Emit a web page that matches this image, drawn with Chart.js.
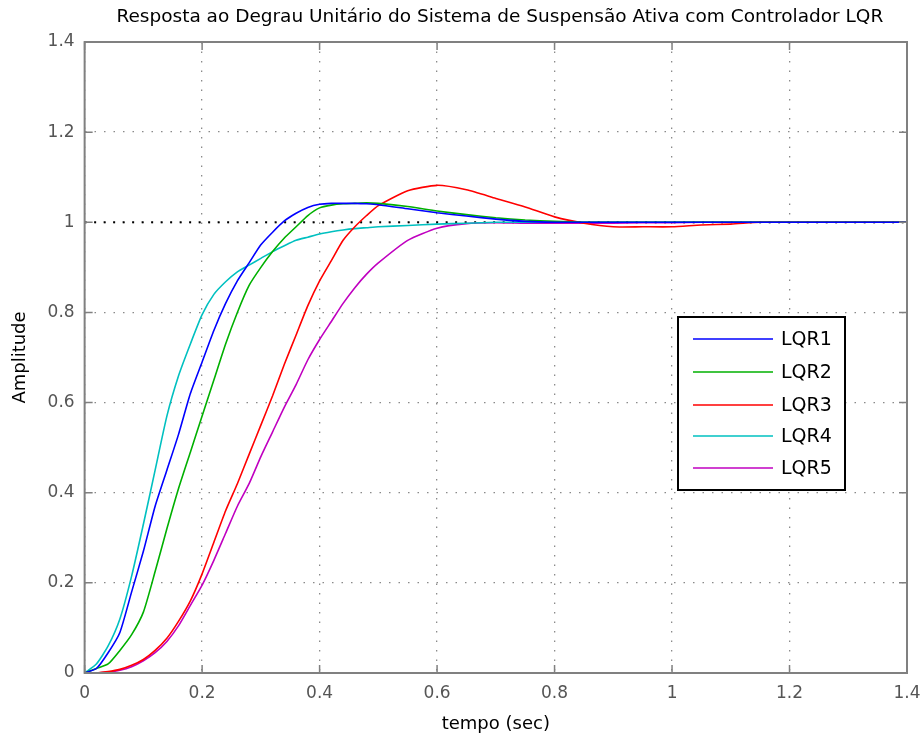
<!DOCTYPE html>
<html>
<head>
<meta charset="utf-8">
<script src="https://cdn.jsdelivr.net/npm/chart.js@4"></script>
<style>
html,body{margin:0;padding:0;background:#fff;}
canvas{display:block;}
</style>
</head>
<body>
<canvas id="c" width="922" height="735"></canvas>
<script>
// time samples (s)
const tempo = [0,0.02,0.04,0.06,0.08,0.1,0.12,0.14,0.16,0.18,0.2,0.22,0.24,0.26,0.28,0.3,0.32,0.34,0.36,0.38,0.4,0.42,0.44,0.46,0.48,0.5,0.55,0.6,0.65,0.7,0.75,0.8,0.85,0.9,0.95,1.0,1.05,1.1,1.15,1.2,1.3,1.4];

const lqr1 = [0,0.01,0.045,0.09,0.18,0.27,0.37,0.45,0.53,0.62,0.69,0.76,0.82,0.87,0.91,0.95,0.978,1.003,1.02,1.033,1.04,1.042,1.042,1.042,1.041,1.039,1.03,1.021,1.014,1.007,1.002,1.0,1.0,1.0,1.0,1.0,1.0,1.0,1.0,1.0,1.0,1.0];
const lqr2 = [0,0.01,0.02,0.05,0.085,0.135,0.225,0.32,0.41,0.49,0.57,0.65,0.73,0.80,0.86,0.90,0.935,0.965,0.99,1.015,1.032,1.038,1.041,1.042,1.043,1.042,1.035,1.025,1.017,1.01,1.005,1.002,1.0,1.0,1.0,1.0,1.0,1.0,1.0,1.0,1.0,1.0];
const lqr3 = [0,0,0.003,0.008,0.017,0.03,0.05,0.077,0.115,0.16,0.22,0.29,0.36,0.42,0.485,0.55,0.615,0.685,0.75,0.815,0.87,0.915,0.96,0.99,1.015,1.037,1.07,1.082,1.072,1.053,1.034,1.012,0.998,0.99,0.99,0.99,0.994,0.996,1.0,1.0,1.0,1.0];
const lqr4 = [0,0.02,0.06,0.12,0.215,0.33,0.45,0.57,0.66,0.73,0.795,0.84,0.868,0.89,0.905,0.92,0.935,0.948,0.96,0.967,0.974,0.979,0.983,0.986,0.988,0.99,0.993,0.996,0.998,1.0,1.0,1.0,1.0,1.0,1.0,1.0,1.0,1.0,1.0,1.0,1.0,1.0];
const lqr5 = [0,0,0.002,0.006,0.014,0.027,0.045,0.07,0.105,0.15,0.195,0.25,0.31,0.37,0.42,0.48,0.535,0.59,0.64,0.695,0.74,0.78,0.82,0.855,0.885,0.91,0.96,0.987,0.997,0.999,0.998,0.998,0.998,0.998,0.999,0.999,1.0,1.0,1.0,1.0,1.0,1.0];

const seriesNames = ['LQR1','LQR2','LQR3','LQR4','LQR5'];
const seriesColors = ['#0000ff','#00b000','#ff0000','#00c0c0','#c000c0'];
const seriesValues = [lqr1,lqr2,lqr3,lqr4,lqr5];

const refX = [0,1.4];
const refY = [1,1];

const tickValues = [0,0.2,0.4,0.6,0.8,1,1.2,1.4];

const titleText = 'Resposta ao Degrau Unitário do Sistema de Suspensão Ativa com Controlador LQR';

const FONT = "'DejaVu Sans',Arial,sans-serif";

const datasets = seriesValues.map((vals,i)=>({
  label: seriesNames[i],
  data: tempo.map((t,k)=>({x:t,y:vals[k]})),
  borderColor: seriesColors[i],
  borderWidth: 1.6,
  pointRadius: 0,
  tension: 0.2,
  fill: false,
  order: 1
}));
datasets.push({
  label: 'ref',
  data: refX.map((x,k)=>({x:x,y:refY[k]})),
  borderColor: '#000',
  borderWidth: 2,
  borderDash: [2,7.5],
  pointRadius: 0,
  fill: false,
  order: 2
});

const framePlugin = {
  id: 'frame',
  afterDraw(chart){
    const ctx = chart.ctx, a = chart.chartArea;
    const xs = chart.scales.x, ys = chart.scales.y;
    ctx.save();
    ctx.strokeStyle = '#808080';
    ctx.lineWidth = 1.5;
    const L = 8;
    tickValues.forEach(v=>{
      const px = xs.getPixelForValue(v);
      ctx.beginPath();
      ctx.moveTo(px,a.bottom); ctx.lineTo(px,a.bottom-L);
      ctx.moveTo(px,a.top); ctx.lineTo(px,a.top+L);
      ctx.stroke();
      const py = ys.getPixelForValue(v);
      ctx.beginPath();
      ctx.moveTo(a.left,py); ctx.lineTo(a.left+L,py);
      ctx.moveTo(a.right,py); ctx.lineTo(a.right-L,py);
      ctx.stroke();
    });
    ctx.lineWidth = 2;
    ctx.strokeRect(a.left,a.top,a.right-a.left,a.bottom-a.top);
    // title, centred over the plot box
    ctx.fillStyle = '#000';
    ctx.font = '18.5px ' + FONT;
    ctx.textAlign = 'center';
    ctx.textBaseline = 'middle';
    ctx.fillText(titleText,(a.left+a.right)/2 + 4, 17);
    // legend
    const bx = 678, by = 317, bw = 167, bh = 173;
    ctx.fillStyle = '#fff';
    ctx.fillRect(bx,by,bw,bh);
    ctx.strokeStyle = '#000';
    ctx.lineWidth = 2;
    ctx.strokeRect(bx,by,bw,bh);
    const rows = [339,372,405,436,468];
    ctx.font = '19px ' + FONT;
    ctx.textBaseline = 'middle';
    ctx.textAlign = 'left';
    seriesNames.forEach((n,i)=>{
      ctx.strokeStyle = seriesColors[i];
      ctx.lineWidth = 1.6;
      ctx.beginPath();
      ctx.moveTo(693,rows[i]); ctx.lineTo(773,rows[i]);
      ctx.stroke();
      ctx.fillStyle = '#000';
      ctx.fillText(n,781,rows[i]+1);
    });
    ctx.restore();
  }
};

const gridOpts = {color:'#8a8a8a',lineWidth:1.3,drawTicks:false};
const borderOpts = {display:false,dash:[1.5,8]};

new Chart(document.getElementById('c'),{
  type:'line',
  data:{datasets},
  options:{
    responsive:false,
    animation:false,
    layout:{padding:{left:10,right:15,top:42,bottom:0}},
    plugins:{
      legend:{display:false},
      tooltip:{enabled:false},
      title:{display:false}
    },
    scales:{
      x:{type:'linear',min:0,max:1.4,
        afterBuildTicks(s){s.ticks = tickValues.map(v=>({value:v}));},
        afterFit(s){s.paddingRight = 0; s.paddingLeft = 0;},
        ticks:{color:'#555',font:{family:FONT,size:17},padding:10,
          callback:(v)=>String(Math.round(v*10)/10)},
        grid:gridOpts,
        border:borderOpts,
        title:{display:true,text:'tempo (sec)',color:'#000',font:{family:FONT,size:18},padding:{top:0,bottom:0}}
      },
      y:{type:'linear',min:0,max:1.4,
        afterBuildTicks(s){s.ticks = tickValues.map(v=>({value:v}));},
        afterFit(s){s.paddingTop = 0; s.paddingBottom = 0;},
        ticks:{color:'#555',font:{family:FONT,size:17},padding:10,
          callback:(v)=>String(Math.round(v*10)/10)},
        grid:gridOpts,
        border:borderOpts,
        title:{display:true,text:'Amplitude',color:'#000',font:{family:FONT,size:18},padding:{top:0,bottom:6}}
      }
    }
  },
  plugins:[framePlugin]
});
</script>
</body>
</html>
